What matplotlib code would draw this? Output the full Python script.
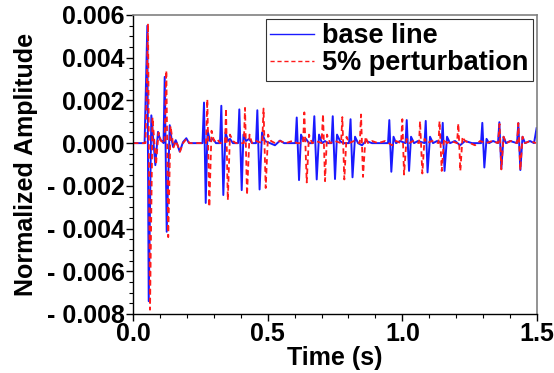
import matplotlib
matplotlib.use("Agg")
import matplotlib.pyplot as plt
from matplotlib.ticker import MultipleLocator, FuncFormatter

# ---- data (vertices) ----
t_base = [0.0, 0.043, 0.0531, 0.0583, 0.068, 0.0828, 0.0928, 0.1014, 0.1088, 0.1133,
          0.1177, 0.1251, 0.1363, 0.143, 0.1485, 0.1586, 0.163, 0.1734, 0.1857, 0.1979,
          0.208, 0.258, 0.2636, 0.270, 0.2766, 0.286, 0.297, 0.308, 0.323,
          0.3279, 0.3353, 0.3435, 0.3528, 0.360, 0.371, 0.390,
          0.3947, 0.4036, 0.410, 0.4196, 0.431, 0.442, 0.4567,
          0.4616, 0.470, 0.479, 0.490, 0.5087, 0.527, 0.546, 0.561, 0.583, 0.603,
          0.6079, 0.6164, 0.6238, 0.633, 0.642, 0.6535, 0.668,
          0.6732, 0.6821, 0.6907, 0.7018, 0.713, 0.724, 0.737,
          0.7416, 0.750, 0.7575, 0.7686, 0.780, 0.802,
          0.8077, 0.815, 0.8244, 0.8355, 0.850, 0.865, 0.8875, 0.917, 0.9469,
          0.9517, 0.9591, 0.9673, 0.9766, 0.9915, 1.0119,
          1.0163, 1.0249, 1.0323, 1.0434, 1.058, 1.0824,
          1.0869, 1.0936, 1.1028, 1.114, 1.129, 1.1456,
          1.150, 1.1567, 1.166, 1.177, 1.1957, 1.2142, 1.233, 1.2588, 1.2922,
          1.297, 1.3045, 1.3126, 1.322, 1.3368, 1.3553,
          1.3602, 1.3676, 1.3758, 1.385, 1.400, 1.4259,
          1.4307, 1.4382, 1.4463, 1.4556, 1.474, 1.489, 1.4985]
y_base = [0.0, 0.0, 0.0055, -0.0074, 0.0013, -0.00103, 0.00053, 0.00014, 0.0001, 0.0,
          0.0031, -0.00415, 0.00084, 0.0002, -0.00017, 0.00014, 0.0, -0.0004, 0.00005, 0.00023,
          0.0, 0.0, 0.0019, -0.0028, 0.0006, 0.0001, 0.0002, 0.0, 0.0,
          0.00175, -0.00243, 0.0005, 0.0001, 0.0002, 0.0, 0.0,
          0.00158, -0.0022, 0.0004, 0.0001, 0.0002, 0.0, 0.0,
          0.00154, -0.00217, 0.0005, 0.0001, 0.0, -0.0001, 0.00012, 0.0, 0.0, 0.0,
          0.0012, -0.00173, 0.0004, 0.0001, 0.0002, 0.0, 0.0,
          0.00126, -0.0017, 0.0004, 0.0, 0.0001, 0.0, 0.0,
          0.00126, -0.00168, 0.0004, 0.0001, 0.0, 0.0,
          0.00112, -0.0016, 0.0003, 0.0, -0.0001, 0.0001, 0.0, 0.0, 0.0,
          0.00108, -0.00134, 0.0003, 0.0, 0.0001, 0.0,
          0.00108, -0.0013, 0.0003, 0.0, 0.0001, 0.0,
          0.00104, -0.00137, 0.0003, 0.0, 0.0001, 0.0,
          0.00095, -0.0013, 0.0003, 0.0, 0.0001, -0.0001, 0.0001, 0.0, 0.0,
          0.00095, -0.00114, 0.0002, 0.0, 0.0001, 0.0,
          0.00098, -0.0012, 0.0003, 0.0, 0.0001, 0.0,
          0.00094, -0.00126, 0.0003, 0.0, 0.0001, 0.0, 0.0007]

t_pert = [0.0, 0.0464, 0.0557, 0.0631, 0.0724, 0.0854, 0.0947, 0.104, 0.117,
          0.1237, 0.1307, 0.1393, 0.1504, 0.1597, 0.1745, 0.1857, 0.1987, 0.2098, 0.2711,
          0.2759, 0.2833, 0.2915, 0.3008, 0.312, 0.323, 0.3416,
          0.3453, 0.352, 0.360, 0.3713, 0.382, 0.4114,
          0.4159, 0.4233, 0.4326, 0.4419, 0.4567, 0.4797,
          0.4846, 0.4927, 0.5013, 0.5124, 0.5273, 0.5458, 0.568, 0.5904, 0.609, 0.6313,
          0.6361, 0.645, 0.6535, 0.6647, 0.6795, 0.6999,
          0.7055, 0.713, 0.7204, 0.7315, 0.750, 0.7724,
          0.7772, 0.7846, 0.7928, 0.802, 0.8206, 0.8421,
          0.8466, 0.854, 0.8633, 0.8726, 0.8875, 0.9098, 0.9358, 0.9618, 0.9766, 0.9952,
          1.000, 1.0063, 1.0156, 1.0249, 1.0397, 1.062,
          1.0657, 1.0743, 1.0824, 1.0917, 1.110, 1.1344,
          1.1381, 1.1463, 1.1548, 1.166, 1.181, 1.203,
          1.208, 1.2154, 1.2235, 1.2328, 1.2514, 1.270, 1.2885, 1.311, 1.333, 1.3553,
          1.3609, 1.3676, 1.3758, 1.385, 1.4036, 1.426,
          1.4307, 1.4382, 1.4463, 1.4556, 1.474, 1.4963]
y_pert = [0.0, 0.0, 0.0056, -0.0078, 0.0012, -0.001, 0.0005, 0.0001, 0.0,
          0.0034, -0.0044, 0.0008, -0.0002, 0.0001, -0.0004, 0.0, 0.0002, 0.0, 0.0,
          0.00205, -0.00298, 0.00058, 0.0001, 0.0002, 0.0, 0.0,
          0.00162, -0.00267, 0.0004, 0.0001, 0.0, 0.0,
          0.00165, -0.00243, 0.0004, 0.0, 0.0001, 0.0,
          0.00162, -0.0021, 0.0004, 0.0001, 0.0, 0.0001, 0.0, 0.0001, 0.0, 0.0,
          0.00144, -0.00184, 0.0004, 0.0, 0.0001, 0.0,
          0.00136, -0.00178, 0.0004, 0.0, 0.0001, 0.0,
          0.00122, -0.0017, 0.0003, 0.0, 0.0001, 0.0,
          0.00134, -0.00158, 0.0003, 0.0, 0.0001, 0.0, 0.0001, -0.0001, 0.0001, 0.0,
          0.00112, -0.00147, 0.0002, 0.0, 0.0001, 0.0,
          0.00103, -0.00142, 0.0002, 0.0, 0.0001, 0.0,
          0.00103, -0.0013, 0.0002, 0.0, 0.0001, 0.0,
          0.00092, -0.0013, 0.0003, 0.0001, 0.0, -0.0001, 0.0001, 0.0, 0.0001, 0.0,
          0.0009, -0.00123, 0.0003, 0.0, 0.0001, 0.0,
          0.00094, -0.00126, 0.0003, 0.0, 0.0001, 0.0]

labels = ["base line", "5% perturbation"]
x_ticks = [0.0, 0.5, 1.0, 1.5]
y_ticks = [-0.008, -0.006, -0.004, -0.002, 0.0, 0.002, 0.004, 0.006]

plt.rcParams['font.family'] = ['Liberation Sans', 'DejaVu Sans']
plt.rcParams['font.weight'] = 'bold'
FS = 18
LFS = 19.5

fig = plt.figure(figsize=(5.54, 3.73), dpi=100)
ax = fig.add_axes([0.2401, 0.1582, 0.7292, 0.8016])

ax.plot(t_base, y_base, color='#1a1aff', lw=1.4, label=labels[0])
ax.plot(t_pert, y_pert, color='#ff1a1a', lw=1.3, ls=(0, (3, 2)), label=labels[1])

ax.set_xlim(0, 1.5)
ax.set_ylim(-0.008, 0.006)
ax.set_xticks(x_ticks)
ax.set_yticks(y_ticks)
ax.xaxis.set_minor_locator(MultipleLocator(0.1))
ax.yaxis.set_minor_locator(MultipleLocator(0.0005))

def yfmt(v, pos):
    s = f"{abs(v):.3f}"
    return ("- " + s) if v < -1e-12 else s
ax.yaxis.set_major_formatter(FuncFormatter(yfmt))
ax.xaxis.set_major_formatter(FuncFormatter(lambda v, p: f"{v:.1f}"))

ax.tick_params(axis='both', which='major', direction='out', length=5, width=1,
               labelsize=FS, pad=1)
ax.tick_params(axis='both', which='minor', direction='out', length=3, width=0.8)
ax.tick_params(top=False, right=False, which='both')
for lab in ax.get_xticklabels() + ax.get_yticklabels():
    lab.set_fontweight('bold')

for s in ['top', 'right']:
    ax.spines[s].set_color('#808080')
    ax.spines[s].set_linewidth(1.2)
for s in ['left', 'bottom']:
    ax.spines[s].set_color('black')
    ax.spines[s].set_linewidth(1.0)

ax.set_xlabel("Time (s)", fontsize=FS, fontweight='bold', labelpad=0)
ax.set_ylabel("Normalized Amplitude", fontsize=FS, fontweight='bold', labelpad=6)

leg = ax.legend(loc='upper right', fontsize=LFS, frameon=True, fancybox=False,
                handlelength=1.65, handletextpad=0.3, borderpad=0.15,
                labelspacing=0.05, borderaxespad=0.15)
leg.get_frame().set_edgecolor('black')
leg.get_frame().set_linewidth(0.8)
for txt in leg.get_texts():
    txt.set_fontweight('bold')
for h in leg.get_lines():
    h.set_linewidth(1.0)

fig.savefig("out.png", dpi=100)
